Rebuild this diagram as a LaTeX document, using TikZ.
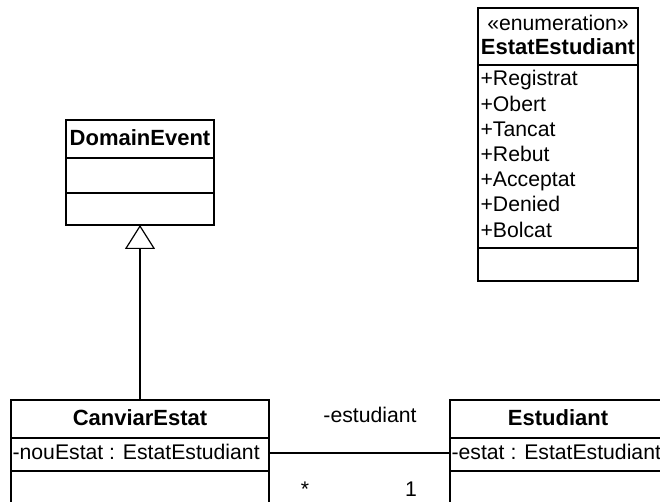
\documentclass[tikz,border=0pt]{standalone}
\usepackage{fontspec}
\setmainfont{Liberation Sans}
\usetikzlibrary{arrows.meta}
\begin{document}
\begin{tikzpicture}[x=1pt, y=-1pt, line width=1.2pt,
  classbox/.style={draw, rectangle, anchor=north west, inner sep=0pt, outer sep=0pt},
  lbl/.style={font=\fontsize{21.2}{25}\selectfont, inner sep=0pt},
  classname/.style={lbl, font=\fontsize{22}{26}\selectfont\bfseries, anchor=base},
  attrtext/.style={lbl, anchor=base west},
  gen/.style={-{Triangle[open, length=24pt, width=30pt]}}]
  \useasboundingbox (0,0) rectangle (660,502);
  \clip (0,0) rectangle (660,502);

  % Enumeration EstatEstudiant
  \node[classbox, minimum width=160pt, minimum height=273pt] (enum) at (478,8) {};
  \draw (enum.west |- 0,65) -- (enum.east |- 0,65);
  \draw (enum.west |- 0,248) -- (enum.east |- 0,248);
  \node[lbl, anchor=base] (enumster) at (558,31) {«enumeration»};
  \node[classname] (enumname) at (558,55) {EstatEstudiant};
  \foreach \lit [count=\i from 0] in {Registrat,Obert,Tancat,Rebut,Acceptat,Denied,Bolcat}
    \node[attrtext] (lit\i) at (480,{86+25.2*\i}) {+\lit};

  % DomainEvent
  \node[classbox, minimum width=148pt, minimum height=105pt] (domain) at (66,120) {};
  \draw (domain.west |- 0,158) -- (domain.east |- 0,158);
  \draw (domain.west |- 0,193) -- (domain.east |- 0,193);
  \node[classname] (domainname) at (140,146) {DomainEvent};

  % CanviarEstat
  \node[classbox, minimum width=258pt, minimum height=120pt] (canviar) at (11,400) {};
  \draw (canviar.west |- 0,438) -- (canviar.east |- 0,438);
  \draw (canviar.west |- 0,471) -- (canviar.east |- 0,471);
  \node[classname] (canviarname) at (140,425) {CanviarEstat};
  \node[attrtext] (nouestat) at (12,459) {-nouEstat : EstatEstudiant};

  % Estudiant
  \node[classbox, minimum width=216pt, minimum height=120pt] (estudiant) at (450,400) {};
  \draw (estudiant.west |- 0,438) -- (estudiant.east |- 0,438);
  \draw (estudiant.west |- 0,471) -- (estudiant.east |- 0,471);
  \node[classname] (estudiantname) at (558,425) {Estudiant};
  \node[attrtext] (estat) at (451,459) {-estat : EstatEstudiant};

  % Generalization CanviarEstat -> DomainEvent
  \draw[gen] (canviar.north) -- (domain.south);

  % Association CanviarEstat -- Estudiant
  \coordinate (assoc) at (0,453);
  \draw (canviar.east |- assoc) -- (estudiant.west |- assoc);
  \node[lbl, anchor=base] (rolename) at (370,422) {-estudiant};
  \node[lbl, anchor=base] (multmany) at (305,496) {*};
  \node[lbl, anchor=base] (multone) at (411,496) {1};
\end{tikzpicture}
\end{document}
